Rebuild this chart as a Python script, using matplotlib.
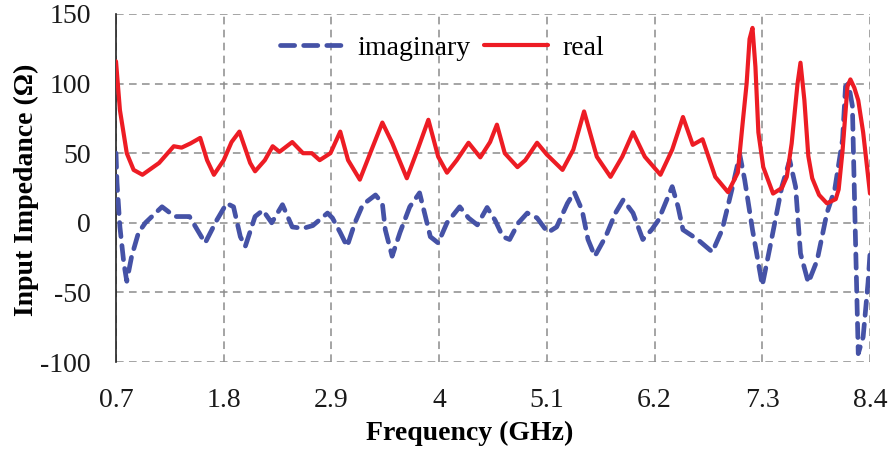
import matplotlib
matplotlib.use("Agg")
import matplotlib.pyplot as plt

# ---------------- data ----------------
real_freq = [0.70, 0.74, 0.81, 0.88, 0.97, 1.14, 1.29, 1.37, 1.46, 1.56, 1.63, 1.70,
             1.80, 1.88, 1.96, 2.07, 2.12, 2.22, 2.30, 2.37, 2.50, 2.61, 2.70, 2.78,
             2.89, 2.99, 3.07, 3.19, 3.31, 3.42, 3.52, 3.67, 3.78, 3.89, 3.99, 4.08,
             4.18, 4.30, 4.42, 4.52, 4.59, 4.67, 4.80, 4.88, 5.00, 5.10, 5.26, 5.37,
             5.48, 5.61, 5.75, 5.87, 5.98, 6.10, 6.26, 6.38, 6.49, 6.59, 6.69, 6.82,
             6.95, 7.05, 7.10, 7.14, 7.17, 7.20, 7.23, 7.26, 7.31, 7.41, 7.50, 7.55,
             7.60, 7.66, 7.69, 7.73, 7.77, 7.81, 7.88, 7.96, 8.05, 8.08, 8.12, 8.17,
             8.20, 8.24, 8.28, 8.33, 8.37, 8.40]
real_vals = [116, 81, 50, 38, 34.5, 43, 55, 54, 57, 61, 45, 34.5,
             45, 58, 65.5, 43, 37, 45, 55, 51, 58, 50, 50, 45,
             50, 65.5, 45, 31, 52.5, 72, 57.5, 32, 52.5, 74, 47.5, 36,
             45, 57.5, 47, 58, 70.5, 50, 40, 45, 57.5, 49, 38, 52.5,
             80, 47.5, 33, 47.5, 65, 47.5, 34.5, 52.5, 76, 56, 60, 33,
             22, 36, 72, 100, 132, 140, 112, 65, 40, 21, 25, 33,
             57, 100, 115, 88, 48, 32, 20, 14, 17, 24, 52, 98,
             103, 97, 88, 65, 40, 21]

imag_freq = [0.70, 0.71, 0.74, 0.78, 0.81, 0.86, 0.93, 1.00, 1.17, 1.30, 1.45, 1.53,
             1.61, 1.73, 1.83, 1.90, 1.97, 2.02, 2.12, 2.20, 2.29, 2.40, 2.50, 2.61,
             2.71, 2.86, 2.91, 2.99, 3.06, 3.14, 3.22, 3.35, 3.42, 3.45, 3.52, 3.60,
             3.70, 3.80, 3.86, 3.91, 3.99, 4.08, 4.21, 4.30, 4.39, 4.49, 4.57, 4.65,
             4.72, 4.81, 4.90, 5.00, 5.11, 5.20, 5.31, 5.38, 5.46, 5.52, 5.59, 5.70,
             5.80, 5.88, 5.98, 6.08, 6.17, 6.24, 6.38, 6.44, 6.49, 6.64, 6.79, 6.89,
             6.99, 7.07, 7.12, 7.20, 7.26, 7.30, 7.38, 7.50, 7.58, 7.64, 7.69, 7.77,
             7.86, 7.96, 8.04, 8.12, 8.15, 8.18, 8.22, 8.25, 8.28, 8.33, 8.38, 8.40]
imag_vals = [50, 29, -3, -29, -42, -24, -7, 0, 11.5, 4.5, 4.5, -5,
             -14.5, 2, 14, 11.5, -10, -17, 4.5, 9, 0, 13, -3, -4,
             -2, 7, 3.5, -7, -17, 0, 13, 20, 14, -5, -24, -7,
             11.5, 21.5, 4.5, -10, -14.5, 0, 11.5, 3.5, -1.5, 11, 2, -10,
             -12, 0, 7, 3.5, -7, -3, 14, 22, 9, -12, -24, -10,
             7, 16.5, 7, -12, -5, 2, 26, 11.5, -5, -12, -21, -5,
             24, 49, 31, -5, -29, -45, -17, 26, 45, 26, -22, -43,
             -27, 7, 24, 60, 98, 100, 84, -7, -94, -82, -43, -22]

x_ticks = [0.7, 1.8, 2.9, 4.0, 5.1, 6.2, 7.3, 8.4]
x_tick_labels = ["0.7", "1.8", "2.9", "4", "5.1", "6.2", "7.3", "8.4"]
y_ticks = [-100, -50, 0, 50, 100, 150]
y_tick_labels = ["-100", "-50", "0", "50", "100", "150"]

# ---------------- plot ----------------
plt.rcParams['font.family'] = ['Liberation Serif', 'DejaVu Serif']

fig = plt.figure(figsize=(8.91, 4.5), dpi=100)
ax = fig.add_axes([116/891, 1 - 362/450, (870 - 116)/891, (362 - 14)/450])

blue = '#4552A6'
red = '#ED1C24'

ax.plot(imag_freq, imag_vals, color=blue, lw=3.4, dashes=(3.0, 1.9),
        dash_capstyle='round', dash_joinstyle='round', label='imaginary', zorder=3)
ax.plot(real_freq, real_vals, color=red, lw=3.0, solid_joinstyle='round',
        solid_capstyle='round', label='real', zorder=4)

ax.set_xlim(0.7, 8.4)
ax.set_ylim(-100, 150)
ax.set_xticks(x_ticks)
ax.set_xticklabels(x_tick_labels)
ax.set_yticks(y_ticks)
ax.set_yticklabels(y_tick_labels)
ax.tick_params(axis='both', length=0, labelsize=20, colors='#1a1a1a')
ax.tick_params(axis='y', pad=18)
ax.tick_params(axis='x', pad=19)

ax.grid(True, color='#8c8c8c', linestyle=(0, (5, 3.5)), lw=1.1)
for s in ['top', 'right', 'bottom']:
    ax.spines[s].set_visible(False)
ax.spines['left'].set_color('#222222')
ax.spines['left'].set_linewidth(1.2)

ax.set_xlabel('Frequency (GHz)', fontsize=20, fontweight='bold')
ax.set_ylabel('Input Impedance (Ω)', fontsize=20, fontweight='bold')
ax.xaxis.set_label_coords(0.469, -0.168)
ax.yaxis.set_label_coords(-0.102, 0.494)

leg = ax.legend(loc='center', bbox_to_anchor=(0.432, 0.902), ncol=2, frameon=False,
                fontsize=20, handlelength=2.3, handletextpad=0.5, columnspacing=0.5,
                borderaxespad=0)

fig.savefig('out.png', dpi=100)
